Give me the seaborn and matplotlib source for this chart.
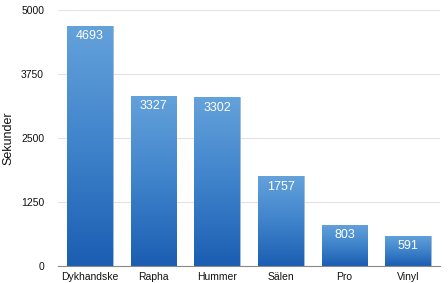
import numpy as np
import pandas as pd
import matplotlib
matplotlib.use("Agg")
import matplotlib.pyplot as plt
import seaborn as sns
from matplotlib.colors import LinearSegmentedColormap

categories = ["Dykhandske", "Rapha", "Hummer", "Sälen", "Pro", "Vinyl"]
values = [4693, 3327, 3302, 1757, 803, 591]
yticks = [0, 1250, 2500, 3750, 5000]

sns.set_style("white")
plt.rcParams['font.family'] = ['Liberation Sans', 'DejaVu Sans']

df = pd.DataFrame({"cat": categories, "val": values})
fig = plt.figure(figsize=(4.48, 2.83), dpi=100)
ax = fig.add_axes([58/448, 1-266/283, (440-58)/448, (266-10)/283])
sns.barplot(data=df, x="cat", y="val", ax=ax, width=0.72, color="#3d7fc8",
            edgecolor="#9dbbd8", linewidth=0.6, zorder=2)

cmap = LinearSegmentedColormap.from_list("g", ["#1b5eb2", "#3f83cb", "#64a2db"])
grad = np.linspace(0, 1, 256).reshape(-1, 1)
for p in ax.patches:
    x0, y0 = p.get_x(), p.get_y()
    w, h = p.get_width(), p.get_height()
    im = ax.imshow(grad, cmap=cmap, origin="lower", aspect="auto",
                   extent=[x0, x0 + w, y0, y0 + h], zorder=2.5)
    im.set_clip_path(p)
    ax.text(x0 + w/2, y0 + h - 90, f"{int(h)}", ha="center", va="top",
            color="white", fontsize=9, zorder=4)

ax.set_xlim(-0.5, len(categories) - 0.5)
ax.set_ylim(0, 5000)
ax.set_yticks(yticks)
ax.set_yticklabels([str(t) for t in yticks])
ax.yaxis.grid(True, color="#e3e3e3", linewidth=0.8, zorder=0)
ax.set_axisbelow(True)
for s in ["left", "right", "top"]:
    ax.spines[s].set_visible(False)
ax.spines["bottom"].set_color("#8a8a8a")
ax.spines["bottom"].set_linewidth(0.8)
ax.tick_params(axis="both", length=0, labelsize=7.5, colors="#111111")
ax.tick_params(axis="y", pad=10)
ax.tick_params(axis="x", pad=4)
ax.set_xlabel("")
ax.set_ylabel("")
fig.text(8/448, 1-138/283, "Sekunder", rotation=90, ha="center", va="center",
         fontsize=9, color="#111111")

fig.savefig("out.png", dpi=100)
